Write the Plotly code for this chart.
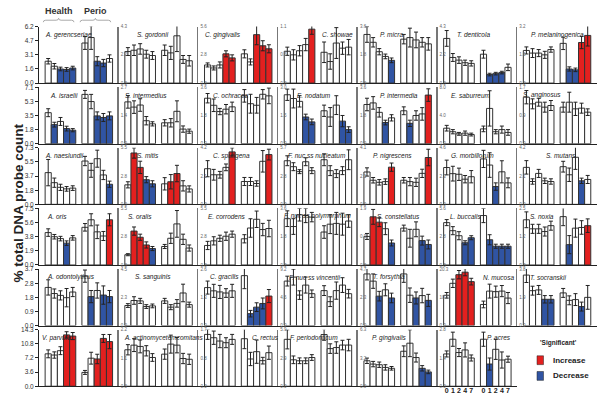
import plotly.graph_objects as go

species = [
    "A. gerencseriae", "S. gordonii", "C. gingivalis", "C. showae", "P. micra", "T. denticola", "P. melaninogenica",
    "A. israelii", "S. intermedius", "C. ochracea", "E. nodatum", "P. intermedia", "E. saburreum", "S. anginosus",
    "A. naeslundii", "S. mitis", "C. sputigena", "F. nuc ss nucleatum", "P. nigrescens", "G. morbillorum", "S. mutans",
    "A. oris", "S. oralis", "E. corrodens", "F. nuc ss polymorphum", "S. constellatus", "L. buccalis", "S. noxia",
    "A. odontolyticus", "S. sanguinis", "C. gracilis", "F. nuc ss vincentii", "T. forsythia", "N. mucosa", "T. socranskii",
    "V. parvula", "A. actinomycetemcomitans", "C. rectus", "F. periodonticum", "P. gingivalis", "P. acres",
]

ytick_labels = [
    ["0.0", "1.6", "3.1", "4.7", "6.2"], ["0.0", "2.2", "4.3"], ["0.0", "2.8", "5.6"], ["0.0", "0.6", "1.1"],
    ["0.0", "1.8", "3.6"], ["0.0", "2.2", "4.3"], ["0.0", "1.6", "3.2"],
    ["0.0", "1.8", "3.5", "5.3", "7.1"], ["0.0", "1.4", "2.7"], ["0.0", "1.8", "3.6"], ["0.0", "1.5", "3.0"],
    ["0.0", "1.8", "3.6"], ["0.0", "4.0", "8.0"], ["0.0", "0.9", "1.7"],
    ["0.0", "1.8", "3.7", "5.5", "7.3"], ["0.0", "2.8", "5.5"], ["0.0", "2.1", "4.2"], ["0.0", "2.8", "5.7"],
    ["0.0", "2.1", "4.1"], ["0.0", "2.3", "4.6"], ["0.0", "2.1", "4.2"],
    ["0.0", "1.9", "3.8", "5.6", "7.5"], ["0.0", "2.8", "5.5"], ["0.0", "2.8", "5.5"], ["0.0", "1.8", "3.6"],
    ["0.0", "0.9", "1.9"], ["0.0", "2.8", "5.6"], ["0.0", "1.2", "2.5"],
    ["0.0", "0.9", "1.8", "2.8", "3.7"], ["0.0", "2.3", "4.5"], ["0.0", "1.3", "2.6"], ["0.0", "4.6", "9.2"],
    ["0.0", "2.3", "4.7"], ["0.0", "10.2", "20.3"], ["0.0", "1.9", "3.8"],
    ["0.0", "3.6", "7.2", "10.8", "14.3"], ["0.0", "1.1", "2.2"], ["0.0", "0.8", "1.7"], ["0.0", "2.9", "5.9"],
    ["0.0", "3.2", "6.3"], ["0.0", "1.4", "2.8"],
]

days = ["0", "1", "2", "4", "7"]

health_mean = [
    [2.4, 1.85, 1.55, 1.5, 1.65], [2.4, 2.5, 2.6, 2.2, 2.1], [1.8, 1.5, 1.8, 2.9, 2.5], [0.62, 0.55, 0.63, 0.75, 1.05],
    [3.1, 2.6, 2.0, 1.7, 1.45], [3.4, 1.95, 1.75, 1.55, 1.5], [1.85, 1.7, 1.7, 1.6, 1.9],
    [3.9, 2.4, 2.8, 1.9, 1.7], [2.0, 1.75, 1.85, 1.1, 0.95], [2.9, 2.45, 2.05, 2.2, 2.35], [2.6, 2.4, 2.25, 1.42, 1.16],
    [2.5, 2.6, 2.0, 1.35, 1.65], [2.2, 1.7, 1.4, 1.5, 1.3], [1.4, 1.2, 1.25, 1.1, 1.15],
    [4.1, 2.8, 2.2, 2.0, 2.1], [1.9, 5.0, 3.6, 2.4, 2.0], [2.65, 2.2, 2.2, 2.75, 3.9], [4.4, 3.8, 3.3, 4.3, 3.4],
    [2.35, 1.75, 1.6, 1.65, 2.7], [3.0, 2.5, 2.45, 2.05, 2.25], [2.75, 1.7, 2.3, 1.75, 1.7],
    [4.3, 3.75, 3.5, 2.9, 3.6], [1.0, 3.3, 2.7, 1.95, 1.6], [1.9, 2.35, 2.6, 2.8, 3.0], [2.95, 2.45, 3.2, 3.15, 3.05],
    [0.96, 1.62, 1.44, 1.22, 0.74], [4.2, 3.4, 2.9, 2.2, 2.7], [2.0, 1.6, 1.6, 1.48, 1.74],
    [2.5, 2.1, 1.98, 1.83, 2.2], [1.6, 2.0, 1.97, 1.52, 1.57], [1.75, 1.6, 1.55, 1.5, 1.6], [7.25, 7.9, 4.97, 6.6, 5.2],
    [4.3, 3.7, 2.45, 2.98, 2.3], [10.9, 15.2, 18.3, 19.2, 15.8], [3.4, 2.35, 2.4, 1.77, 1.77],
    [8.2, 7.9, 9.0, 13.0, 12.7], [1.42, 1.6, 1.55, 1.38, 1.12], [1.56, 1.46, 1.36, 1.31, 1.41], [4.9, 2.76, 2.66, 2.66, 3.0],
    [2.84, 2.47, 2.4, 2.1, 2.0], [1.6, 2.33, 1.67, 1.8, 1.4],
]
health_err = [
    [0.3, 0.3, 0.2, 0.2, 0.2], [0.3, 0.4, 0.4, 0.3, 0.3], [0.2, 0.2, 0.3, 0.3, 0.3], [0.08, 0.1, 0.1, 0.12, 0.1],
    [0.5, 0.3, 0.2, 0.15, 0.15], [0.6, 0.3, 0.25, 0.2, 0.2], [0.2, 0.25, 0.2, 0.2, 0.15],
    [0.5, 0.3, 0.5, 0.3, 0.2], [0.3, 0.3, 0.3, 0.2, 0.1], [0.3, 0.4, 0.2, 0.3, 0.3], [0.3, 0.5, 0.3, 0.15, 0.15],
    [0.4, 0.4, 0.3, 0.15, 0.2], [0.4, 0.3, 0.2, 0.3, 0.2], [0.2, 0.15, 0.12, 0.15, 0.15],
    [1.7, 0.6, 0.4, 0.3, 0.3], [0.3, 0.5, 0.6, 0.3, 0.3], [0.6, 0.4, 0.25, 0.25, 0.3], [0.5, 0.4, 0.2, 0.4, 0.3],
    [0.3, 0.2, 0.2, 0.2, 0.3], [0.6, 0.6, 0.5, 0.3, 0.5], [0.5, 0.2, 0.3, 0.2, 0.2],
    [0.5, 0.3, 0.3, 0.3, 0.3], [0.1, 0.4, 0.3, 0.3, 0.2], [0.4, 0.4, 0.3, 0.4, 0.3], [0.5, 0.5, 0.4, 0.45, 0.3],
    [0.1, 0.25, 0.15, 0.2, 0.1], [0.3, 0.4, 0.4, 0.2, 0.2], [0.35, 0.2, 0.2, 0.2, 0.2],
    [0.5, 0.3, 0.3, 0.6, 0.3], [0.15, 0.3, 0.2, 0.15, 0.15], [0.3, 0.3, 0.3, 0.2, 0.3], [0.8, 1.3, 0.7, 1.3, 0.6],
    [0.5, 0.6, 0.4, 0.5, 0.4], [1.0, 1.5, 1.5, 1.3, 1.2], [0.5, 0.3, 0.3, 0.25, 0.25],
    [1.0, 0.8, 1.0, 0.8, 0.9], [0.2, 0.25, 0.25, 0.2, 0.15], [0.15, 0.2, 0.2, 0.15, 0.15], [1.0, 0.4, 0.3, 0.3, 0.3],
    [0.3, 0.3, 0.3, 0.3, 0.2], [0.15, 0.35, 0.2, 0.35, 0.15],
]
health_sig = [
    [0, 0, -1, -1, -1], [0, 0, 0, 0, 0], [0, 0, 0, 1, 1], [0, 0, 0, 0, 1], [0, 0, 0, 0, -1], [0, 0, 0, 0, 0], [0, 0, 0, 0, 0],
    [0, -1, 0, -1, -1], [0, 0, 0, 0, 0], [0, 0, 0, 0, 0], [0, 0, 0, -1, -1], [0, 0, 0, -1, 0], [0, 0, 0, 0, 0], [0, 0, 0, 0, 0],
    [0, 0, 0, 0, 0], [0, 1, 1, -1, -1], [0, 0, 0, 0, 1], [0, 0, 0, 0, 0], [0, 0, 0, 0, 1], [0, 0, 0, 0, 0], [0, 0, 0, 0, 0],
    [0, 0, 0, -1, 0], [0, 1, 1, 1, -1], [0, 0, 0, 0, 0], [0, 0, 0, 0, 0], [0, 1, 1, 0, -1], [0, 0, 0, -1, -1], [0, 0, 0, 0, 0],
    [0, 0, 0, 0, 0], [0, 0, 0, 0, 0], [0, 0, 0, 0, 0], [0, 0, 0, 0, 0], [0, 0, -1, 0, -1], [0, 0, 1, 1, 1], [0, 0, 0, -1, -1],
    [0, 0, 0, 1, 1], [0, 0, 0, 0, 0], [0, 0, 0, 0, 0], [0, 0, 0, 0, 0], [0, 0, 0, 0, 0], [0, 0, 0, 0, 0],
]

perio_mean = [
    [4.4, 5.0, 2.4, 2.2, 2.7], [2.5, 2.3, 3.6, 1.8, 1.7], [2.9, 2.1, 4.8, 3.7, 3.4], [0.6, 0.42, 0.78, 0.68, 0.7],
    [2.8, 2.9, 2.75, 2.6, 2.5], [2.2, 0.65, 0.72, 0.8, 1.2], [2.25, 0.8, 0.75, 2.3, 2.7],
    [6.2, 5.3, 3.5, 3.3, 3.5], [1.0, 1.0, 1.55, 0.7, 0.6], [3.05, 2.55, 2.45, 3.15, 3.05], [1.75, 1.42, 2.05, 1.2, 0.75],
    [2.1, 1.3, 1.8, 1.9, 3.1], [2.1, 5.0, 1.7, 2.0, 1.6], [1.1, 1.25, 1.05, 1.07, 0.95],
    [5.6, 4.4, 5.9, 3.8, 2.6], [2.0, 2.2, 3.0, 1.8, 1.5], [1.7, 1.7, 1.55, 3.2, 3.7], [4.5, 3.4, 3.1, 3.4, 4.5],
    [1.75, 1.65, 1.6, 2.25, 3.4], [3.7, 3.2, 1.45, 2.65, 1.75], [2.8, 2.2, 3.5, 1.75, 1.85],
    [5.0, 6.0, 4.4, 3.85, 6.0], [1.8, 2.6, 4.0, 2.5, 1.65], [2.55, 3.6, 4.45, 3.45, 3.55], [2.1, 2.6, 2.65, 2.6, 2.8],
    [1.24, 0.9, 1.2, 0.82, 0.69], [4.9, 2.5, 1.86, 1.86, 1.86], [2.14, 0.9, 1.63, 1.66, 1.74],
    [3.24, 1.9, 2.3, 2.0, 1.9], [1.97, 1.47, 1.77, 2.6, 1.67], [2.3, 0.55, 0.85, 1.02, 1.36], [5.7, 3.9, 5.7, 6.6, 5.2],
    [4.3, 2.53, 2.3, 2.5, 2.1], [7.6, 12.4, 12.2, 12.4, 9.9], [2.2, 1.7, 1.75, 1.28, 1.9],
    [3.5, 7.1, 6.9, 12.1, 11.3], [1.25, 1.64, 1.6, 1.08, 1.05], [1.43, 0.82, 1.04, 0.77, 1.01], [5.4, 3.93, 4.04, 4.3, 4.3],
    [3.9, 4.8, 3.2, 2.0, 1.6], [2.33, 1.1, 1.83, 1.3, 1.34],
]
perio_err = [
    [0.7, 1.3, 0.5, 0.4, 0.4], [0.4, 0.5, 1.2, 0.3, 0.4], [0.4, 0.3, 1.0, 0.5, 0.4], [0.2, 0.15, 0.3, 0.12, 0.15],
    [0.3, 0.6, 0.5, 0.3, 0.4], [0.3, 0.1, 0.1, 0.1, 0.25], [0.35, 0.12, 0.1, 0.35, 0.6],
    [0.5, 0.9, 0.5, 0.5, 0.5], [0.15, 0.2, 0.5, 0.15, 0.1], [0.4, 0.6, 0.5, 0.3, 0.5], [0.3, 0.5, 0.5, 0.3, 0.15],
    [0.25, 0.2, 0.3, 0.4, 0.4], [0.4, 2.5, 0.3, 0.5, 0.4], [0.15, 0.3, 0.2, 0.15, 0.1],
    [0.6, 0.9, 1.1, 0.6, 0.4], [0.6, 0.7, 0.8, 0.5, 0.3], [0.3, 0.3, 0.2, 0.8, 0.4], [0.6, 0.5, 0.4, 0.4, 1.0],
    [0.2, 0.3, 0.3, 0.3, 0.6], [0.7, 1.0, 0.3, 0.9, 0.4], [0.4, 0.5, 0.9, 0.2, 0.3],
    [0.5, 0.8, 0.9, 0.6, 0.8], [0.2, 0.5, 1.3, 0.5, 0.3], [0.4, 0.9, 0.8, 0.6, 0.8], [0.4, 0.6, 0.7, 0.7, 0.4],
    [0.1, 0.3, 0.25, 0.15, 0.15], [0.7, 0.5, 0.2, 0.2, 0.2], [0.4, 0.4, 0.4, 0.3, 0.3],
    [0.4, 0.4, 0.5, 0.6, 0.4], [0.2, 0.2, 0.3, 0.7, 0.2], [0.6, 0.15, 0.2, 0.25, 0.3], [0.8, 0.8, 1.4, 1.2, 0.7],
    [0.7, 0.6, 0.5, 0.6, 0.5], [1.2, 2.5, 2.0, 2.0, 2.0], [0.3, 0.3, 0.4, 0.3, 0.8],
    [0.5, 1.5, 1.2, 1.0, 1.8], [0.2, 0.35, 0.3, 0.2, 0.2], [0.3, 0.2, 0.35, 0.1, 0.2], [0.6, 0.5, 0.6, 0.5, 0.6],
    [0.6, 1.5, 0.5, 0.3, 0.2], [0.35, 0.3, 0.5, 0.4, 0.15],
]
perio_sig = [
    [0, 0, -1, -1, 0], [0, 0, 0, 0, 0], [0, 0, 1, 1, 1], [0, 0, 0, 0, 0], [0, 0, 0, 0, 0], [0, -1, -1, -1, 0], [0, -1, -1, 1, 1],
    [0, 0, -1, -1, -1], [0, 0, 0, 0, 0], [0, 0, 0, 0, 0], [0, 0, 0, -1, -1], [0, -1, 0, 0, 1], [0, 0, 0, 0, 0], [0, 0, 0, 0, 0],
    [0, 0, 0, 0, -1], [0, 1, 1, 0, 0], [0, 0, 0, 0, 1], [0, 0, 0, 0, 0], [0, 0, 0, 0, 1], [0, 0, -1, 0, 0], [0, 0, 0, -1, 0],
    [0, 0, 0, 0, 1], [0, 0, 0, 0, 0], [0, 0, 0, 0, 0], [0, 0, 0, 0, 0], [0, 0, 0, -1, -1], [0, -1, -1, -1, -1], [0, -1, 0, 0, 1],
    [0, -1, 0, -1, -1], [0, 0, 0, 0, 0], [0, -1, -1, -1, 1], [0, 0, 0, 0, 0], [0, 0, -1, 0, -1], [0, 0, 0, 0, 0], [0, 0, 0, -1, 0],
    [0, 0, 1, 1, 1], [0, 0, 0, 0, 0], [0, 0, 0, 0, 0], [0, 0, 0, 0, 0], [0, 0, 0, -1, -1], [0, -1, 0, 0, 0],
]

# ---- styling / layout constants ----
W, H = 601, 403
NCOL = 7
LEFT, COLW = 39.0, 79.7
TOP0, PITCH, PH = 23.0, 61.7, 57.5
label_dx = [  # px offset of species label from panel left edge
    4, 16, 5, 42, 20, 17, 12,
    9, 4, 13, 17, 20, 11, 4,
    4, 16, 13, 8, 13, 11, 27,
    6, 7, 8, 4, 17, 10, 11,
    6, 14, 10, 9, 13, 43, 11,
    1, 3, 52, 10, 12, 47,
]
RED, BLUE, WHITE = "#e3201f", "#3054a3", "#ffffff"
FONT = "Liberation Sans, Arial, sans-serif"
col_of = {0: WHITE, 1: RED, -1: BLUE}

fig = go.Figure()
layout = dict(
    width=W, height=H, margin=dict(l=0, r=0, t=0, b=0),
    paper_bgcolor="white", plot_bgcolor="rgba(0,0,0,0)",
    showlegend=False, font=dict(family=FONT, color="#222"),
)
annotations = []
shapes = []
xs = [0, 1, 2, 3, 4, 6, 7, 8, 9, 10]

for i, name in enumerate(species):
    r, c = divmod(i, NCOL)
    k = i + 1
    sfx = "" if k == 1 else str(k)
    xa, ya = f"x{sfx}", f"y{sfx}"
    xk, yk = f"xaxis{sfx}", f"yaxis{sfx}"
    x0 = (LEFT + c * COLW) / W
    x1 = (LEFT + (c + 1) * COLW) / W
    ytop = TOP0 + r * PITCH
    ybot = ytop + PH
    labels = ytick_labels[i]
    ymax = float(labels[-1])
    vals = health_mean[i] + perio_mean[i]
    errs = health_err[i] + perio_err[i]
    sig = health_sig[i] + perio_sig[i]
    fig.add_trace(go.Bar(
        x=xs, y=vals, width=1.0, xaxis=xa, yaxis=ya,
        marker=dict(color=[col_of[s] for s in sig], line=dict(color="#333", width=1)),
        error_y=dict(type="data", array=errs, color="#222", thickness=1, width=2),
        cliponaxis=False, hoverinfo="skip",
    ))
    xaxis = dict(
        domain=[x0, x1], range=[-1.5, 11.5], anchor=ya,
        showline=True, linecolor="#222", linewidth=1, mirror=False,
        showgrid=False, zeroline=False, ticks="", showticklabels=False, fixedrange=True,
    )
    if name == "P. acres":
        xaxis.update(showticklabels=True, tickmode="array", tickvals=xs, ticktext=days + days,
                     ticklabelstandoff=-3,
                     tickfont=dict(size=7, family=FONT, color="#222", weight="bold"))
    layout[xk] = xaxis
    n = len(labels)
    tv = [ymax * j / (n - 1) for j in range(n)]
    yaxis = dict(
        domain=[1 - ybot / H, 1 - ytop / H], range=[0, ymax], anchor=xa,
        showgrid=False, zeroline=False, fixedrange=True, tickmode="array", tickvals=tv, ticktext=labels,
        showline=True,
    )
    if c == 0:
        yaxis.update(linecolor="#222", linewidth=1, ticks="outside", ticklen=3, tickcolor="#222",
                     tickfont=dict(size=6.5, color="#333"))
    else:
        yaxis.update(linecolor="#777", linewidth=1.5, ticks="", ticklabelposition="inside",
                     ticklabeloverflow="allow", tickfont=dict(size=4.5, color="#666"))
    layout[yk] = yaxis
    annotations.append(dict(
        text=f"<i>{name}</i>", xref=f"{xa} domain", yref=f"{ya} domain",
        x=label_dx[i] / COLW, y=0.86, xanchor="left", yanchor="middle",
        showarrow=False, font=dict(size=6.5, color="#222"),
    ))

# Group headers with braces over the first panel
for txt, a, b in (("Health", -0.8, 4.2), ("Perio", 5.2, 10.2)):
    m = (a + b) / 2
    yb, yl, yp = 1 - 18.5 / H, 1 - 16.5 / H, 1 - 14.5 / H
    shapes.append(dict(
        type="path", xref="x", yref="paper",
        path=(f"M {a},{yb} Q {a},{yl} {a+0.4},{yl} L {m-0.4},{yl} Q {m},{yl} {m},{yp} "
              f"Q {m},{yl} {m+0.4},{yl} L {b-0.4},{yl} Q {b},{yl} {b},{yb}"),
        line=dict(color="#aaa", width=1),
    ))
    annotations.append(dict(
        text=f"<b>{txt}</b>", xref="x", yref="paper", x=m, y=1 - 7 / H,
        xanchor="center", yanchor="middle", showarrow=False, font=dict(size=9, color="#333"),
    ))

# Y title
annotations.append(dict(
    text="<b>% total DNA probe count</b>", xref="paper", yref="paper", x=18 / W, y=1 - 203 / H,
    textangle=-90, showarrow=False, xanchor="center", yanchor="middle", font=dict(size=13.5, color="#222"),
))
# Days label
k_acres = species.index("P. acres") + 1
annotations.append(dict(
    text="<b>Days</b>", xref=f"x{k_acres}", yref="paper", x=14.0, y=1 - 393 / H,
    xanchor="center", yanchor="middle", showarrow=False, font=dict(size=7, color="#222"),
))

# Significance key
annotations.append(dict(
    text="<b>'Significant'</b>", xref="paper", yref="paper", x=538 / W, y=1 - 345 / H,
    xanchor="left", yanchor="middle", showarrow=False, font=dict(size=6.5, color="#222"),
))
for lab, colr, yc in (("Increase", RED, 362.5), ("Decrease", BLUE, 378.5)):
    shapes.append(dict(type="rect", xref="paper", yref="paper",
                       x0=537 / W, x1=543.5 / W, y0=1 - (yc + 4.5) / H, y1=1 - (yc - 4.5) / H,
                       fillcolor=colr, line=dict(color="#222", width=0.5)))
    annotations.append(dict(
        text=f"<b>{lab}</b>", xref="paper", yref="paper", x=551 / W, y=1 - yc / H,
        xanchor="left", yanchor="middle", showarrow=False, font=dict(size=8, color="#222"),
    ))

layout["annotations"] = annotations
layout["shapes"] = shapes
fig.update_layout(**layout)
fig.write_html(
    "out.html",
    config={"displayModeBar": False, "staticPlot": True},
    post_script="document.body.style.margin='0px';document.body.style.padding='0px';",
)
